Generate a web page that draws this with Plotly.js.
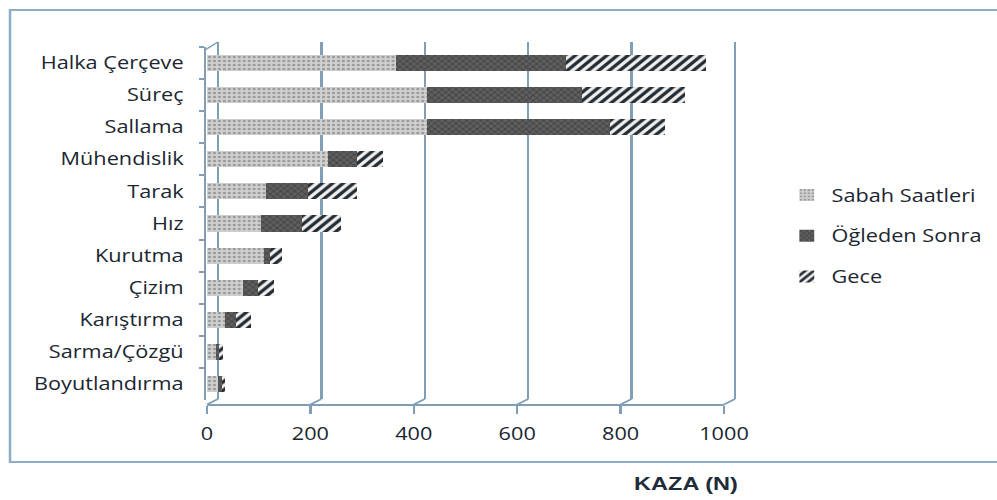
<!DOCTYPE html>
<html>
<head>
<meta charset="utf-8">
<script src="https://cdn.plot.ly/plotly-3.0.1.min.js"></script>
<style>
  html, body { margin: 0; padding: 0; background: #ffffff; overflow: hidden; }
  /* the chart is laid out narrow and widened horizontally as a whole */
  #chart { width: 804px; height: 500px; transform: scaleX(1.24); transform-origin: 0 0; }
</style>
</head>
<body>
<div id="chart"></div>
<script>
// Accidents (N) per department, split by time of day
const categories = ['Halka Çerçeve', 'Süreç', 'Sallama', 'Mühendislik', 'Tarak', 'Hız',
                    'Kurutma', 'Çizim', 'Karıştırma', 'Sarma/Çözgü', 'Boyutlandırma'];
const sabahSaatleri = [365, 425, 425, 235, 115, 105, 110, 70, 35, 18, 22];
const ogledenSonra  = [330, 300, 355,  55,  80,  78,  12, 28, 22,  6,  7];
const gece          = [270, 200, 105,  50,  95,  77,  23, 32, 28,  6,  6];
const seriesNames = ['Sabah Saatleri', 'Öğleden Sonra', 'Gece'];
const tickValues = [0, 200, 400, 600, 800, 1000];
const tickLabels = ['0', '200', '400', '600', '800', '1000'];
const axisTitle = 'KAZA (N)';

// ---- geometry (horizontal numbers are given in final, widened pixels) ----
const K = 1.24;                       // horizontal widening of the whole drawing
const W = 804, H = 500;
const L = 164, R = 596, T = 38, B = 415;
const PW = R - L, PH = B - T;
const fx = px => (px / K - L) / PW;   // widened px -> paper x
const fy = py => (B - py) / PH;       // px -> paper y
const cx = px => (px / K) / W;        // widened px -> container x
const cy = py => 1 - py / H;          // px -> container y

// front plane (axis labels, bars) and back wall (grid) of the 3-D box
const front = { x0: 207, x1: 724, top: 47, bottom: 400, floor: 404.5, left: 205 };
const back  = { x0: 218, x1: 735, top: 42, bottom: 399 };
const pad = 3; // grid axis range padding so the end grid lines are kept
const backUnit = (back.x1 - back.x0) / 1000;
const frontUnit = (front.x1 - front.x0) / 1000;

const axisColor = '#809eb5';
const textColor = '#1b2631';
const labelFont = { family: 'Open Sans, sans-serif', size: 17.5, color: textColor };

const patterns = [
  { shape: '.', fgcolor: '#9b9b9b', bgcolor: '#d0d0d0', size: 4, solidity: 0.35 },
  { shape: 'x', fgcolor: '#3a3a3a', bgcolor: '#5e5e5e', size: 4, solidity: 0.3 },
  { shape: '/', fgcolor: '#1f2d38', bgcolor: '#f6efea', size: 6, solidity: 0.5 }
];
const seriesValues = [sabahSaatleri, ogledenSonra, gece];

const traces = seriesValues.map((vals, i) => ({
  type: 'bar',
  orientation: 'h',
  name: seriesNames[i],
  y: categories,
  x: vals,
  xaxis: 'x2',
  yaxis: 'y2',
  legendgroup: 'g' + i,
  marker: { color: patterns[i].bgcolor, pattern: patterns[i], line: { width: 0 } },
  hoverinfo: 'x+y+name'
}));
// empty trace that keeps the back-wall subplot alive for its grid
traces.unshift({
  type: 'scatter', mode: 'markers', x: [], y: [], xaxis: 'x', yaxis: 'y',
  showlegend: false, hoverinfo: 'skip'
});

// 3-D frame: connectors from front floor ticks to back grid lines, left wall corner, outer border
const shapes = [];
shapes.push({
  type: 'rect', xref: 'paper', yref: 'paper', layer: 'below',
  x0: fx(10), x1: fx(1200), y0: fy(462), y1: fy(10),
  line: { color: '#8cadc6', width: 2 }, fillcolor: 'rgba(0,0,0,0)'
});
tickValues.forEach(v => {
  shapes.push({
    type: 'line', xref: 'paper', yref: 'paper', layer: 'below',
    x0: fx(front.x0 + v * frontUnit), y0: fy(front.floor),
    x1: fx(back.x0 + v * backUnit), y1: fy(back.bottom),
    line: { color: axisColor, width: 1.5 }
  });
});
shapes.push({
  type: 'line', xref: 'paper', yref: 'paper', layer: 'below',
  x0: fx(front.left), y0: fy(front.top + 3), x1: fx(back.x0), y1: fy(back.top),
  line: { color: axisColor, width: 1.5 }
});

const layout = {
  width: W, height: H,
  margin: { l: L, r: W - R, t: T, b: H - B, pad: 0 },
  paper_bgcolor: '#ffffff',
  plot_bgcolor: 'rgba(0,0,0,0)',
  barmode: 'stack',
  bargap: 0.5,
  showlegend: true,
  font: labelFont,
  title: {
    text: axisTitle,
    xref: 'container', yref: 'container',
    x: cx(686), y: cy(483), xanchor: 'center', yanchor: 'middle',
    font: { family: 'Liberation Sans, Arial, sans-serif', size: 19, weight: 'bold', color: '#1f2c39' }
  },
  // back wall carrying the vertical grid lines
  xaxis: {
    domain: [fx(back.x0 - pad * backUnit), fx(back.x1 + pad * backUnit)],
    range: [-pad, 1000 + pad],
    tickmode: 'array', tickvals: tickValues,
    showticklabels: false, ticks: '', zeroline: false, showline: false,
    showgrid: true, gridcolor: axisColor, gridwidth: 1.5,
    anchor: 'y', fixedrange: true
  },
  yaxis: {
    domain: [fy(back.bottom), fy(back.top)],
    range: [0, 1], showticklabels: false, ticks: '', showline: false,
    showgrid: false, zeroline: false, anchor: 'x', fixedrange: true
  },
  // front axes: value scale with labels, category axis
  xaxis2: {
    domain: [fx(front.x0), fx(front.x1)],
    range: [0, 1000],
    tickmode: 'array', tickvals: tickValues, ticktext: tickLabels,
    ticks: 'outside', ticklen: 8, tickwidth: 1.5, tickcolor: axisColor,
    ticklabelstandoff: 6,
    showline: true, linecolor: axisColor, linewidth: 2,
    showgrid: false, zeroline: false,
    tickfont: labelFont,
    anchor: 'free', position: fy(front.floor), fixedrange: true
  },
  yaxis2: {
    domain: [fy(front.bottom), fy(front.top)],
    type: 'category', categoryorder: 'array', categoryarray: categories,
    autorange: 'reversed',
    ticks: 'outside', tickson: 'boundaries', ticklen: 4, tickwidth: 1.5, tickcolor: axisColor,
    ticklabelstandoff: 13,
    showline: true, linecolor: axisColor, linewidth: 1.5,
    showgrid: false, zeroline: false,
    tickfont: labelFont,
    anchor: 'free', position: fx(front.left), fixedrange: true
  },
  legend: {
    xref: 'container', yref: 'container',
    x: cx(782), y: cy(177), xanchor: 'left', yanchor: 'top',
    traceorder: 'grouped', tracegroupgap: 15,
    bgcolor: 'rgba(0,0,0,0)', borderwidth: 0,
    font: labelFont
  },
  shapes: shapes
};

Plotly.newPlot('chart', traces, layout, { displayModeBar: false, responsive: false });
</script>
</body>
</html>
